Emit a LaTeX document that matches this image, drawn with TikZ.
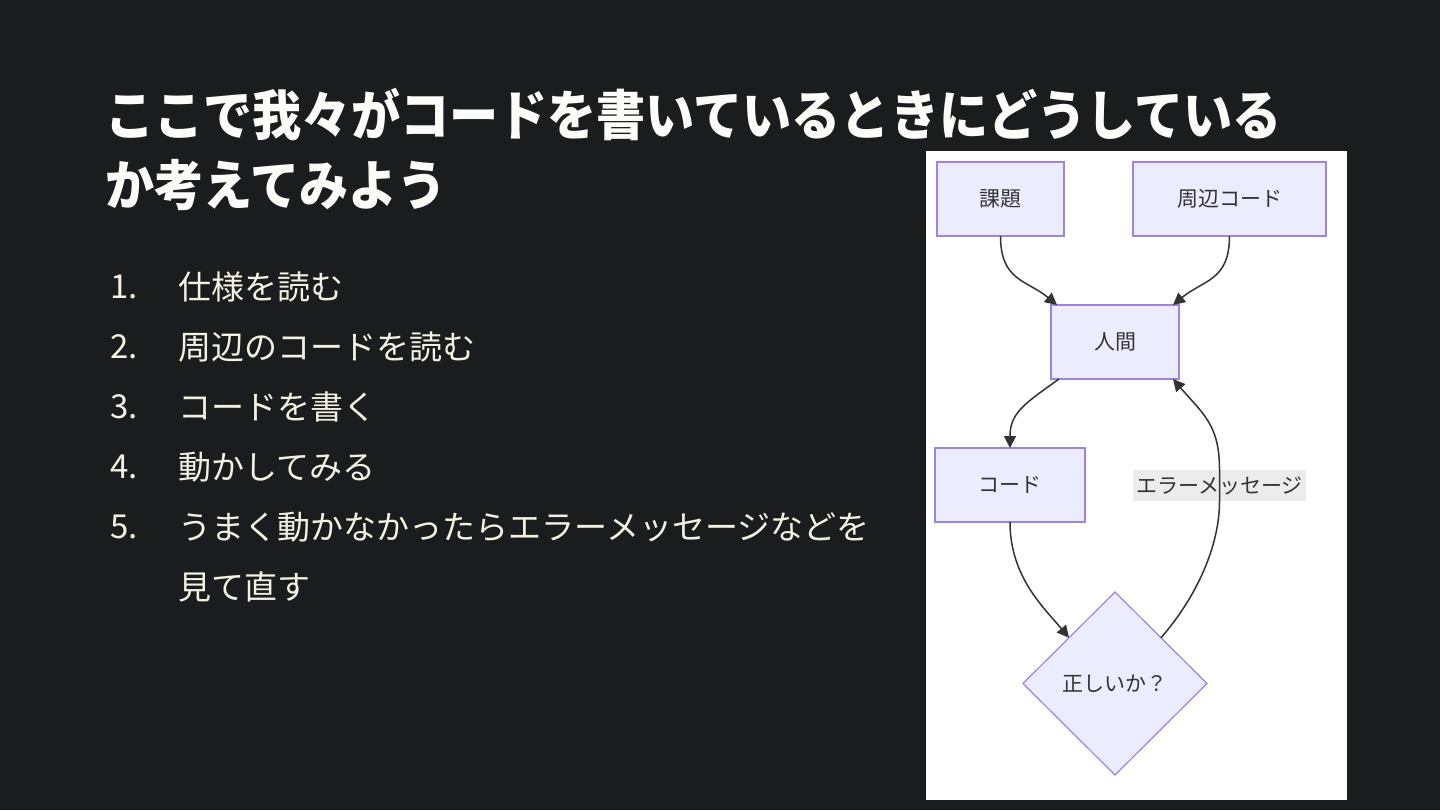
\documentclass[tikz,border=0pt]{standalone}
\usepackage{fontspec}
\setmainfont{Noto Sans CJK JP}
\usetikzlibrary{shapes.geometric, arrows.meta, positioning}
\definecolor{slidebg}{RGB}{27,28,30}
\definecolor{slidetext}{RGB}{243,241,226}
\definecolor{titlewhite}{RGB}{252,252,248}
\definecolor{flowfill}{RGB}{236,236,255}
\definecolor{flowborder}{RGB}{160,130,225}
\definecolor{flowtext}{RGB}{51,51,51}
\definecolor{flowline}{RGB}{51,51,51}
\definecolor{labelgray}{RGB}{232,232,232}
\tikzset{
  titletext/.style={font=\fontsize{27pt}{35pt}\selectfont\bfseries,
    text=titlewhite, align=left, inner sep=0pt, xscale=0.91, transform shape},
  listnum/.style={font=\fontsize{16.5pt}{20pt}\selectfont, text=slidetext,
    inner sep=0pt, anchor=west},
  listitem/.style={listnum},
  flowbox/.style={rectangle, draw=flowborder, fill=flowfill, line width=0.6pt,
    text=flowtext, font=\fontsize{10.5pt}{12pt}\selectfont,
    minimum height=37pt, inner sep=0pt, outer sep=0pt},
  flowdecision/.style={diamond, draw=flowborder, fill=flowfill, line width=0.6pt,
    text=flowtext, font=\fontsize{10.5pt}{12pt}\selectfont,
    minimum width=92pt, minimum height=91.5pt, inner sep=0pt, outer sep=0pt},
  edgelabel/.style={rectangle, fill=labelgray, fill opacity=0.8, text opacity=1,
    text=flowtext, font=\fontsize{10.5pt}{12pt}\selectfont,
    minimum width=86.5pt, minimum height=15.5pt, inner sep=0pt},
  flowarrow/.style={-{Triangle[length=6pt, width=6pt]}, line width=0.75pt,
    color=flowline},
}

\begin{document}
\begin{tikzpicture}[x=0.5pt, y=-0.5pt]
  \useasboundingbox (0,0) rectangle (1440,810);
  \fill[slidebg] (0,0) rectangle (1440,810);
  \fill[white] (926,151) rectangle (1347,800);

  % title and steps
  \node[titletext, anchor=north west] (title) at (105,88)
        {ここで我々がコードを書いているときにどうしている\\か考えてみよう};
  \node[listitem] (item1) at (178,287) {仕様を読む};
  \node[listitem, below=30pt of item1.west, anchor=west] (item2) {周辺のコードを読む};
  \node[listitem, below=30pt of item2.west, anchor=west] (item3) {コードを書く};
  \node[listitem, below=30pt of item3.west, anchor=west] (item4) {動かしてみる};
  \node[listitem, below=30pt of item4.west, anchor=west] (item5)
        {うまく動かなかったらエラーメッセージなどを};
  \node[listitem, below=30pt of item5.west, anchor=west] (item5b) {見て直す};
  \node[listnum] (num1) at ([xshift=-34pt]item1.west) {1.};
  \node[listnum] (num2) at ([xshift=-34pt]item2.west) {2.};
  \node[listnum] (num3) at ([xshift=-34pt]item3.west) {3.};
  \node[listnum] (num4) at ([xshift=-34pt]item4.west) {4.};
  \node[listnum] (num5) at ([xshift=-34pt]item5.west) {5.};

  % flowchart
  \node[flowbox, minimum width=63.5pt] (task) at (1000.5,199) {課題};
  \node[flowbox, minimum width=96.5pt] (surround) at (1229.5,199) {周辺コード};
  \node[flowbox, minimum width=64pt] (human) at (1115,342) {人間};
  \node[flowbox, minimum width=75pt] (code) at (1010,485) {コード};
  \node[flowdecision] (check) at (1115,683.5) {正しいか？};
  \node[edgelabel] (errmsg) at (1219.5,485.5) {エラーメッセージ};
  \draw[flowarrow] (task.south) .. controls +(0,45) and +(-30,-25)
        .. ([xshift=3pt]human.north west);
  \draw[flowarrow] (surround.south) .. controls +(0,45) and +(30,-25)
        .. ([xshift=-3pt]human.north east);
  \draw[flowarrow] ([xshift=4pt]human.south west) .. controls +(-35,25) and +(0,-35)
        .. (code.north);
  \draw[flowarrow] (code.south) .. controls +(0,55) and +(-25,-30)
        .. (check.north west);
  \draw[flowarrow] (check.north east) .. controls +(35,-40) and +(0,45) .. (errmsg.south)
        -- (errmsg.north) .. controls +(0,-45) and +(30,35)
        .. ([xshift=-3pt]human.south east);
\end{tikzpicture}
\end{document}
